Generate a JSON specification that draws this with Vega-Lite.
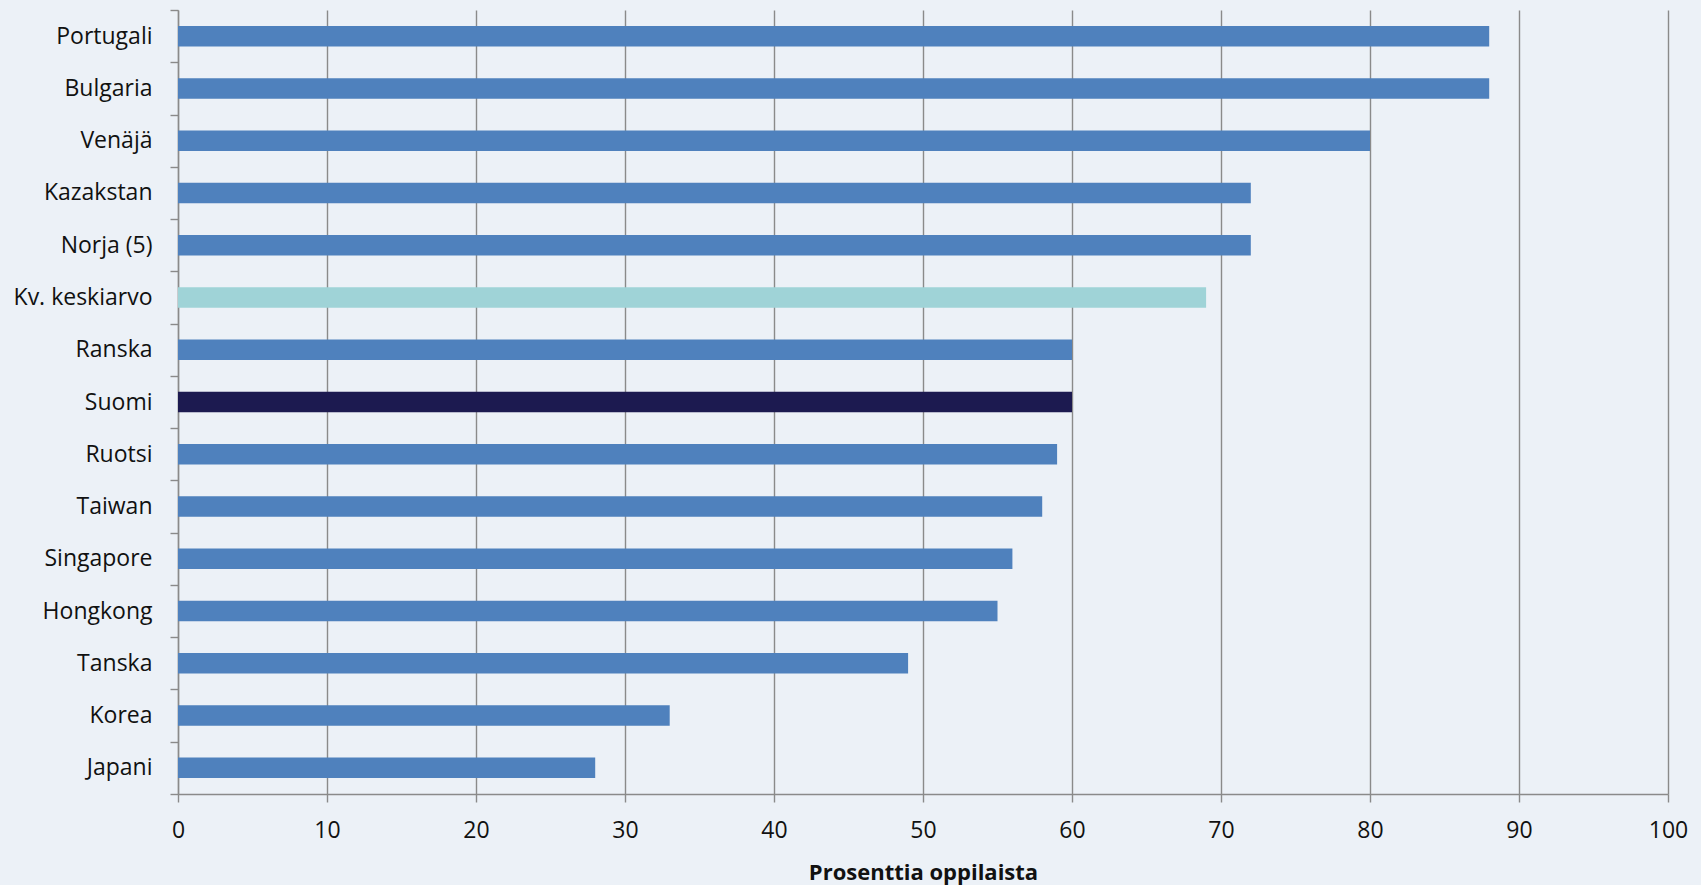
{
  "$schema": "https://vega.github.io/schema/vega-lite/v6.json",
  "width": 1490,
  "height": 784,
  "autosize": {"type": "none"},
  "padding": {"left": 178, "top": 10, "right": 33, "bottom": 91},
  "background": "#ecf1f7",
  "config": {
    "view": {"stroke": null},
    "font": "Open Sans",
    "axis": {
      "labelFont": "Open Sans",
      "labelFontSize": 23,
      "labelColor": "#111111",
      "domainColor": "#8a8a8a",
      "domainWidth": 1.4,
      "tickColor": "#8a8a8a",
      "tickWidth": 1.4,
      "tickSize": 8,
      "gridColor": "#8a8a8a",
      "gridWidth": 1.4,
      "titleFont": "Open Sans",
      "titleFontSize": 22,
      "titleFontWeight": "bold",
      "titleColor": "#111111"
    }
  },
  "data": {
    "values": [
      {"maa": "Portugali", "osuus": 88, "ryhma": "maa"},
      {"maa": "Bulgaria", "osuus": 88, "ryhma": "maa"},
      {"maa": "Venäjä", "osuus": 80, "ryhma": "maa"},
      {"maa": "Kazakstan", "osuus": 72, "ryhma": "maa"},
      {"maa": "Norja (5)", "osuus": 72, "ryhma": "maa"},
      {"maa": "Kv. keskiarvo", "osuus": 69, "ryhma": "keskiarvo"},
      {"maa": "Ranska", "osuus": 60, "ryhma": "maa"},
      {"maa": "Suomi", "osuus": 60, "ryhma": "suomi"},
      {"maa": "Ruotsi", "osuus": 59, "ryhma": "maa"},
      {"maa": "Taiwan", "osuus": 58, "ryhma": "maa"},
      {"maa": "Singapore", "osuus": 56, "ryhma": "maa"},
      {"maa": "Hongkong", "osuus": 55, "ryhma": "maa"},
      {"maa": "Tanska", "osuus": 49, "ryhma": "maa"},
      {"maa": "Korea", "osuus": 33, "ryhma": "maa"},
      {"maa": "Japani", "osuus": 28, "ryhma": "maa"}
    ]
  },
  "mark": {"type": "bar", "size": 20.5},
  "encoding": {
    "y": {
      "field": "maa",
      "type": "nominal",
      "sort": null,
      "scale": {"paddingInner": 0, "paddingOuter": 0},
      "axis": {
        "title": null,
        "tickBand": "extent",
        "labelPadding": 18,
        "grid": false
      }
    },
    "x": {
      "field": "osuus",
      "type": "quantitative",
      "scale": {"domain": [0, 100], "nice": false},
      "axis": {
        "title": "Prosenttia oppilaista",
        "values": [0, 10, 20, 30, 40, 50, 60, 70, 80, 90, 100],
        "grid": true,
        "labelPadding": 17,
        "titlePadding": 20,
        "labelFlush": false
      }
    },
    "color": {
      "field": "ryhma",
      "type": "nominal",
      "scale": {
        "domain": ["maa", "keskiarvo", "suomi"],
        "range": ["#4f81bd", "#9fd3d7", "#1c1a50"]
      },
      "legend": null
    }
  }
}
